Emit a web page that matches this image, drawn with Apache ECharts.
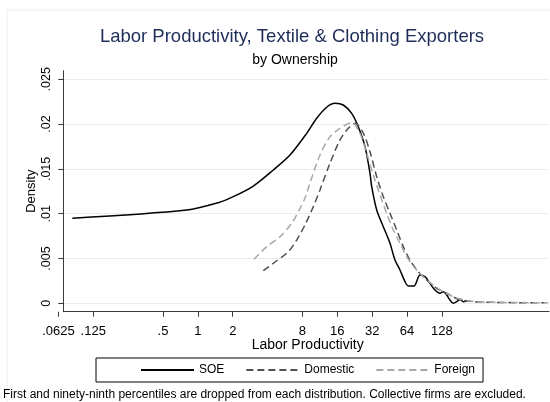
<!DOCTYPE html>
<html><head><meta charset="utf-8">
<script src="https://cdn.jsdelivr.net/npm/echarts@6/dist/echarts.min.js"></script>
<style>html,body{margin:0;padding:0;background:#fff}#c{width:550px;height:402px}</style>
</head><body><div id="c"></div>
<script>
// Tick labels (x axis, labor productivity, log2 scale)
const xTickValues = [0.0625, 0.125, 0.5, 1, 2, 8, 16, 32, 64, 128];
const xTickLabels = ['.0625', '.125', '.5', '1', '2', '8', '16', '32', '64', '128'];
const yTickValues = [0, 0.005, 0.01, 0.015, 0.02, 0.025];
const yTickLabels = ['0', '.005', '.01', '.015', '.02', '.025'];

// SOE kernel density: productivity values and densities
const soeX = [0.0825, 0.80, 1.50, 2.02, 3.01, 4.48, 6.24, 8.70, 10.61, 12.94, 15.27, 18.0, 21.27, 24.26, 27.72, 30.62, 31.67, 34.98, 39.89, 45.57, 50.32, 55.57, 61.39, 65.56, 73.42, 82.7, 91.3, 100.9, 111.4, 123.1, 131.4, 140.7, 150.1, 160.3, 171.6, 183.1, 195.6, 209.3];
const soeY = [0.00949, 0.01041, 0.01123, 0.0119, 0.01309, 0.01488, 0.01655, 0.01897, 0.02065, 0.02188, 0.02232, 0.02213, 0.0212, 0.01971, 0.01748, 0.01451, 0.01301, 0.01041, 0.00855, 0.0067, 0.00483, 0.00372, 0.00241, 0.00193, 0.00193, 0.00316, 0.00297, 0.00223, 0.00148, 0.00112, 0.00129, 0.00093, 0.00037, 0.0, 0.00018, 0.00045, 0.00018, 0.00029];

// Domestic
const domX = [3.67, 4.48, 6.03, 7.13, 8.41, 9.92, 11.33, 13.82, 16.87, 19.89, 22.72, 26.80, 30.62, 34.98, 39.89, 45.57, 52.06, 59.34, 67.8, 79.9, 94.5, 115.3, 140.7, 183.1, 238.7, 352.9, 565.4, 992.8];
const domY = [0.00364, 0.00446, 0.00576, 0.00706, 0.00874, 0.01078, 0.01265, 0.01563, 0.01823, 0.01953, 0.02009, 0.0190, 0.0169, 0.01413, 0.0119, 0.01004, 0.00818, 0.00632, 0.00483, 0.00353, 0.0026, 0.00167, 0.00112, 0.00037, 0.00018, 0.00011, 0.00007, 0.00006];

// Foreign
const forX = [3.05, 3.93, 5.12, 6.46, 7.36, 8.41, 9.29, 11.33, 13.82, 16.87, 21.27, 25.09, 28.66, 32.7, 37.35, 42.67, 48.64, 55.57, 63.5, 74.9, 88.3, 107.7, 131.4, 165.9, 223.5, 332.5, 546.5, 1053];
const forY = [0.00491, 0.00632, 0.00743, 0.00893, 0.01022, 0.01175, 0.01343, 0.01655, 0.01859, 0.01953, 0.02016, 0.01897, 0.01674, 0.01432, 0.01209, 0.01004, 0.00818, 0.0067, 0.0052, 0.00391, 0.00297, 0.00204, 0.00129, 0.00065, 0.00026, 0.00012, 0.00008, 0.00006];

const seriesNames = ['SOE', 'Domestic', 'Foreign'];

const toPairs = (xs, ys) => xs.map((x, i) => [Math.log2(x), ys[i]]);
const xLog = xTickValues.map(v => Math.log2(v));
const labelFor = v => {
  const i = xLog.findIndex(t => Math.abs(t - v) < 1e-6);
  return i >= 0 ? xTickLabels[i] : '';
};
const yLabelFor = v => {
  const i = yTickValues.findIndex(t => Math.abs(t - v) < 1e-9);
  return i >= 0 ? yTickLabels[i] : '';
};

const FONT = 'Liberation Sans, Arial, sans-serif';
const axisColor = '#3a3a3a';
const chart = echarts.init(document.getElementById('c'), null, {renderer: 'canvas'});

chart.setOption({
  animation: false,
  backgroundColor: '#ffffff',
  textStyle: {fontFamily: FONT},
  graphic: [
    {type: 'rect', shape: {x: 7, y: 10, width: 700, height: 600}, style: {fill: 'none', stroke: '#ececec', lineWidth: 1}, z: -1},
    {type: 'text', x: 292, y: 37, style: {text: 'Labor Productivity, Textile & Clothing Exporters', font: '18.5px ' + FONT, fill: '#1e2d5a', textAlign: 'center', textVerticalAlign: 'middle'}},
    {type: 'text', x: 295, y: 60, style: {text: 'by Ownership', font: '14px ' + FONT, fill: '#000', textAlign: 'center', textVerticalAlign: 'middle'}},
    {type: 'text', x: 3, y: 395, style: {text: 'First and ninety-ninth percentiles are dropped from each distribution. Collective firms are excluded.', font: '12px ' + FONT, fill: '#000', textAlign: 'left', textVerticalAlign: 'middle'}}
  ],
  legend: {
    data: seriesNames,
    left: 96, top: 358,
    orient: 'horizontal',
    padding: [6, 8, 6, 44],
    itemWidth: 53, itemHeight: 14, itemGap: 21,
    borderColor: '#000', borderWidth: 1,
    itemStyle: {opacity: 0},
    textStyle: {fontFamily: FONT, fontSize: 12, color: '#000'}
  },
  grid: [
    {left: 58.4, top: 70.7, width: 490.6, height: 241, containLabel: false},
    {left: 63.3, top: 70.7, width: 485.7, height: 241, containLabel: false}
  ],
  xAxis: [
    {
      type: 'value', gridIndex: 0, min: -4, max: 10.07,
      axisLine: {show: false, onZero: false},
      axisTick: {show: true, length: 5, customValues: xLog, lineStyle: {color: axisColor}},
      axisLabel: {show: true, customValues: xLog, formatter: v => labelFor(v), margin: 13, fontSize: 13, color: '#000', fontFamily: FONT},
      splitLine: {show: false},
      name: 'Labor Productivity', nameLocation: 'middle', nameGap: 26.5, nameMoveOverlap: false,
      nameTextStyle: {fontSize: 14, color: '#000', fontFamily: FONT, padding: [0, 0, 0, 8]}
    },
    {
      type: 'value', gridIndex: 1, min: 0, max: 1,
      axisLine: {show: true, onZero: false, lineStyle: {color: axisColor, width: 1}},
      axisTick: {show: false}, axisLabel: {show: false}, splitLine: {show: false}
    }
  ],
  yAxis: [
    {
      type: 'value', gridIndex: 0, min: -0.00094, max: 0.02596, offset: -4.9,
      axisLine: {show: true, onZero: false, lineStyle: {color: axisColor, width: 1}},
      axisTick: {show: true, length: 5, customValues: yTickValues, lineStyle: {color: axisColor}},
      axisLabel: {show: true, customValues: yTickValues, formatter: v => yLabelFor(v), rotate: 90, margin: 10, fontSize: 12.5, color: '#000', fontFamily: FONT},
      splitLine: {show: true, lineStyle: {color: '#e6eeef', width: 1}},
      name: 'Density', nameLocation: 'middle', nameGap: 25, nameMoveOverlap: false,
      nameTextStyle: {fontSize: 13, color: '#000', fontFamily: FONT}
    },
    {type: 'value', gridIndex: 1, show: false, min: 0, max: 1}
  ],
  series: [
    {name: 'SOE', type: 'line', xAxisIndex: 0, yAxisIndex: 0, data: toPairs(soeX, soeY), symbol: 'none', smooth: 0.3,
     lineStyle: {color: '#000000', width: 1.5, type: 'solid'}, itemStyle: {color: '#000000'}},
    {name: 'Domestic', type: 'line', xAxisIndex: 0, yAxisIndex: 0, data: toPairs(domX, domY), symbol: 'none', smooth: 0.3,
     lineStyle: {color: '#505050', width: 1.5, type: [7, 4]}, itemStyle: {color: '#505050'}},
    {name: 'Foreign', type: 'line', xAxisIndex: 0, yAxisIndex: 0, data: toPairs(forX, forY), symbol: 'none', smooth: 0.3,
     lineStyle: {color: '#a8a8a8', width: 1.5, type: [7, 4]}, itemStyle: {color: '#a8a8a8'}}
  ]
});
</script>
</body></html>
